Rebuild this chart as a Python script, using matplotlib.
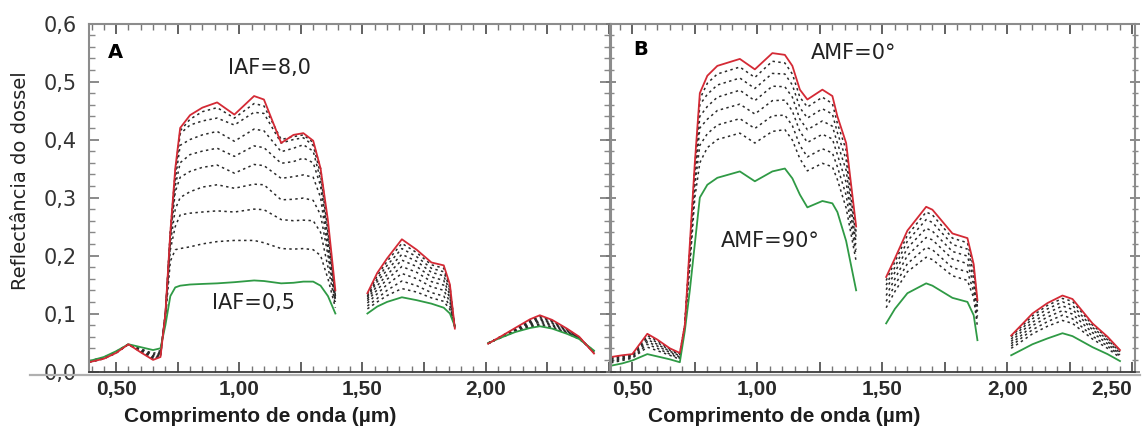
import numpy as np
import matplotlib
matplotlib.use('Agg')
import matplotlib.pyplot as plt
from matplotlib.ticker import MultipleLocator
from matplotlib.lines import Line2D

plt.rcParams['font.family'] = ['DejaVu Sans']

# ---- Painel A (IAF 0,5 ... 8,0) ----
a_wl = [
    [0.39, 0.45, 0.50, 0.55, 0.60, 0.65, 0.68, 0.70, 0.72, 0.74, 0.76, 0.80,
     0.85, 0.91, 0.98, 1.06, 1.10, 1.17, 1.22, 1.26, 1.30, 1.33, 1.36, 1.39],
    [1.52, 1.56, 1.60, 1.66, 1.72, 1.78, 1.83, 1.855, 1.875],
    [2.01, 2.06, 2.12, 2.18, 2.22, 2.27, 2.33, 2.38, 2.44],
]
a_red = [
    [0.016, 0.022, 0.032, 0.047, 0.033, 0.020, 0.025, 0.10, 0.24, 0.35, 0.42, 0.442,
     0.455, 0.464, 0.443, 0.475, 0.469, 0.394, 0.408, 0.411, 0.398, 0.35, 0.26, 0.14],
    [0.135, 0.17, 0.195, 0.228, 0.21, 0.188, 0.183, 0.15, 0.074],
    [0.048, 0.060, 0.075, 0.090, 0.097, 0.089, 0.074, 0.060, 0.031],
]
a_green = [
    [0.018, 0.025, 0.035, 0.047, 0.042, 0.037, 0.040, 0.08, 0.13, 0.145, 0.148, 0.150,
     0.151, 0.152, 0.154, 0.157, 0.156, 0.152, 0.153, 0.155, 0.155, 0.148, 0.13, 0.10],
    [0.10, 0.112, 0.12, 0.128, 0.123, 0.117, 0.11, 0.10, 0.078],
    [0.049, 0.058, 0.068, 0.075, 0.078, 0.074, 0.065, 0.056, 0.036],
]
a_dots_nir = [
    [0.016, 0.022, 0.032, 0.047, 0.034, 0.021, 0.026, 0.10, 0.24, 0.345, 0.415, 0.435,
     0.448, 0.455, 0.437, 0.462, 0.458, 0.400, 0.405, 0.408, 0.395, 0.35, 0.25, 0.13],
    [0.016, 0.022, 0.032, 0.047, 0.034, 0.022, 0.027, 0.10, 0.24, 0.34, 0.41, 0.425,
     0.432, 0.437, 0.425, 0.447, 0.445, 0.394, 0.400, 0.403, 0.390, 0.34, 0.24, 0.13],
    [0.017, 0.023, 0.033, 0.047, 0.035, 0.023, 0.028, 0.10, 0.235, 0.33, 0.39, 0.400,
     0.408, 0.414, 0.397, 0.418, 0.415, 0.379, 0.385, 0.391, 0.380, 0.33, 0.23, 0.13],
    [0.017, 0.023, 0.033, 0.047, 0.035, 0.024, 0.029, 0.10, 0.235, 0.32, 0.36, 0.374,
     0.380, 0.385, 0.371, 0.389, 0.386, 0.359, 0.362, 0.368, 0.360, 0.32, 0.22, 0.125],
    [0.017, 0.023, 0.033, 0.047, 0.036, 0.026, 0.030, 0.10, 0.23, 0.31, 0.335, 0.345,
     0.352, 0.356, 0.342, 0.357, 0.355, 0.333, 0.336, 0.339, 0.335, 0.30, 0.21, 0.12],
    [0.017, 0.024, 0.034, 0.047, 0.037, 0.027, 0.032, 0.10, 0.22, 0.28, 0.30, 0.310,
     0.318, 0.322, 0.316, 0.323, 0.322, 0.296, 0.297, 0.299, 0.295, 0.27, 0.20, 0.12],
    [0.018, 0.024, 0.034, 0.047, 0.038, 0.029, 0.034, 0.095, 0.21, 0.25, 0.27, 0.273,
     0.275, 0.277, 0.275, 0.280, 0.279, 0.262, 0.260, 0.261, 0.260, 0.24, 0.18, 0.115],
    [0.018, 0.024, 0.034, 0.047, 0.039, 0.031, 0.036, 0.09, 0.19, 0.21, 0.212, 0.215,
     0.220, 0.224, 0.226, 0.226, 0.222, 0.212, 0.211, 0.212, 0.210, 0.20, 0.16, 0.11],
]
a_dots_swir1 = [
    [0.133, 0.165, 0.19, 0.221, 0.205, 0.184, 0.178, 0.147, 0.075],
    [0.13, 0.16, 0.183, 0.212, 0.198, 0.178, 0.172, 0.143, 0.075],
    [0.128, 0.155, 0.175, 0.202, 0.19, 0.171, 0.165, 0.138, 0.076],
    [0.125, 0.148, 0.167, 0.192, 0.181, 0.163, 0.157, 0.132, 0.076],
    [0.122, 0.141, 0.159, 0.181, 0.171, 0.155, 0.149, 0.127, 0.077],
    [0.118, 0.134, 0.15, 0.169, 0.16, 0.146, 0.14, 0.12, 0.077],
    [0.113, 0.126, 0.14, 0.156, 0.148, 0.136, 0.13, 0.113, 0.077],
    [0.108, 0.12, 0.131, 0.143, 0.137, 0.127, 0.121, 0.107, 0.078],
]
a_dots_swir2 = [
    [0.048, 0.060, 0.074, 0.088, 0.095, 0.087, 0.073, 0.059, 0.032],
    [0.048, 0.060, 0.073, 0.087, 0.093, 0.086, 0.072, 0.059, 0.032],
    [0.048, 0.059, 0.073, 0.085, 0.091, 0.084, 0.071, 0.058, 0.033],
    [0.048, 0.059, 0.072, 0.084, 0.089, 0.083, 0.070, 0.058, 0.033],
    [0.049, 0.059, 0.071, 0.082, 0.087, 0.081, 0.069, 0.058, 0.034],
    [0.049, 0.059, 0.070, 0.080, 0.085, 0.079, 0.068, 0.057, 0.034],
    [0.049, 0.058, 0.069, 0.078, 0.082, 0.077, 0.067, 0.057, 0.035],
    [0.049, 0.058, 0.069, 0.077, 0.080, 0.076, 0.066, 0.056, 0.035],
]

# ---- Painel B (AMF 0 ... 90 graus) ----
b_wl = [
    [0.415, 0.46, 0.50, 0.56, 0.60, 0.65, 0.69, 0.71, 0.73, 0.75, 0.77, 0.80, 0.84,
     0.93, 0.99, 1.06, 1.11, 1.14, 1.17, 1.20, 1.26, 1.30, 1.32, 1.355, 1.395],
    [1.515, 1.55, 1.60, 1.675, 1.70, 1.78, 1.84, 1.865, 1.88],
    [2.015, 2.06, 2.10, 2.16, 2.22, 2.26, 2.34, 2.40, 2.45],
]
b_red = [
    [0.025, 0.028, 0.030, 0.065, 0.055, 0.040, 0.032, 0.08, 0.22, 0.36, 0.48, 0.51, 0.527,
     0.539, 0.521, 0.549, 0.546, 0.527, 0.486, 0.469, 0.486, 0.475, 0.44, 0.394, 0.25],
    [0.163, 0.195, 0.243, 0.284, 0.279, 0.238, 0.23, 0.185, 0.123],
    [0.062, 0.082, 0.10, 0.118, 0.131, 0.125, 0.083, 0.06, 0.037],
]
b_green = [
    [0.010, 0.014, 0.019, 0.030, 0.026, 0.021, 0.016, 0.07, 0.14, 0.22, 0.30, 0.322, 0.334,
     0.345, 0.328, 0.345, 0.350, 0.333, 0.305, 0.283, 0.294, 0.29, 0.275, 0.225, 0.14],
    [0.083, 0.108, 0.135, 0.152, 0.148, 0.127, 0.12, 0.097, 0.054],
    [0.028, 0.038, 0.047, 0.057, 0.066, 0.061, 0.042, 0.03, 0.018],
]
b_dots_nir = [
    [0.024, 0.027, 0.029, 0.062, 0.053, 0.039, 0.031, 0.08, 0.21, 0.35, 0.47, 0.497, 0.513,
     0.525, 0.507, 0.535, 0.532, 0.513, 0.473, 0.456, 0.473, 0.462, 0.428, 0.382, 0.24],
    [0.022, 0.026, 0.028, 0.059, 0.050, 0.037, 0.029, 0.08, 0.21, 0.35, 0.46, 0.478, 0.494,
     0.506, 0.488, 0.514, 0.513, 0.494, 0.455, 0.437, 0.453, 0.444, 0.412, 0.365, 0.23],
    [0.021, 0.024, 0.027, 0.055, 0.047, 0.035, 0.027, 0.08, 0.20, 0.34, 0.44, 0.457, 0.473,
     0.485, 0.467, 0.492, 0.491, 0.473, 0.435, 0.417, 0.432, 0.423, 0.394, 0.347, 0.22],
    [0.019, 0.022, 0.026, 0.051, 0.044, 0.033, 0.025, 0.08, 0.20, 0.33, 0.42, 0.435, 0.450,
     0.461, 0.444, 0.467, 0.468, 0.449, 0.414, 0.395, 0.409, 0.401, 0.374, 0.326, 0.21],
    [0.017, 0.021, 0.024, 0.047, 0.040, 0.030, 0.023, 0.08, 0.19, 0.32, 0.39, 0.410, 0.425,
     0.436, 0.419, 0.441, 0.442, 0.424, 0.390, 0.370, 0.384, 0.377, 0.353, 0.304, 0.20],
    [0.015, 0.019, 0.023, 0.042, 0.036, 0.028, 0.021, 0.08, 0.18, 0.30, 0.36, 0.386, 0.400,
     0.411, 0.394, 0.414, 0.417, 0.399, 0.367, 0.346, 0.359, 0.353, 0.331, 0.282, 0.19],
]
b_dots_swir1 = [
    [0.157, 0.189, 0.235, 0.275, 0.270, 0.230, 0.222, 0.179, 0.118],
    [0.149, 0.180, 0.225, 0.262, 0.257, 0.219, 0.211, 0.170, 0.111],
    [0.141, 0.171, 0.213, 0.247, 0.242, 0.207, 0.199, 0.160, 0.104],
    [0.131, 0.160, 0.200, 0.231, 0.227, 0.194, 0.186, 0.150, 0.095],
    [0.121, 0.149, 0.186, 0.214, 0.210, 0.179, 0.172, 0.138, 0.086],
    [0.110, 0.138, 0.172, 0.197, 0.193, 0.165, 0.157, 0.127, 0.077],
]
b_dots_swir2 = [
    [0.060, 0.079, 0.096, 0.114, 0.126, 0.121, 0.080, 0.058, 0.036],
    [0.056, 0.075, 0.091, 0.108, 0.120, 0.114, 0.076, 0.055, 0.034],
    [0.052, 0.070, 0.085, 0.101, 0.113, 0.107, 0.072, 0.052, 0.032],
    [0.048, 0.064, 0.079, 0.094, 0.105, 0.099, 0.067, 0.048, 0.029],
    [0.044, 0.059, 0.072, 0.086, 0.097, 0.091, 0.061, 0.044, 0.027],
    [0.040, 0.053, 0.065, 0.078, 0.088, 0.083, 0.056, 0.040, 0.024],
]

x_ticks = [0.5, 0.75, 1.0, 1.25, 1.5, 1.75, 2.0, 2.25, 2.5]
x_labels = ['0,50', '', '1,00', '', '1,50', '', '2,00', '', '2,50']
y_ticks = [0.0, 0.1, 0.2, 0.3, 0.4, 0.5, 0.6]
y_labels = ['0,0', '0,1', '0,2', '0,3', '0,4', '0,5', '0,6']

RED = '#d42a35'
GREEN = '#2f9a45'
DOT = '#2a2a2a'


def draw_panel(ax, wl, red, green, dots):
    for k in range(3):
        for row in dots[k]:
            ax.plot(wl[k], row, color=DOT, lw=1.1, ls=(0, (1.6, 2.2)))
        ax.plot(wl[k], green[k], color=GREEN, lw=1.3)
        ax.plot(wl[k], red[k], color=RED, lw=1.3)


def style_axes(ax, xlim, left_labels, labels):
    ax.set_xlim(*xlim)
    ax.set_ylim(0, 0.6)
    ax.set_xticks(x_ticks)
    ax.set_xticklabels(labels, fontfamily='Liberation Sans', fontweight='bold',
                       fontsize=15, color='#2a2a2a')
    ax.xaxis.set_minor_locator(MultipleLocator(0.05))
    ax.set_yticks(y_ticks)
    ax.yaxis.set_minor_locator(MultipleLocator(0.02))
    if left_labels:
        ax.set_yticklabels(y_labels, fontsize=15, color='#333333')
    else:
        ax.set_yticklabels([])
    ax.tick_params(axis='x', which='major', direction='in', top=True, length=7,
                   width=1.3, color='#555555', pad=6)
    ax.tick_params(axis='x', which='minor', direction='in', top=True, length=4,
                   width=1.0, color='#777777')
    ydir = 'in' if left_labels else 'inout'
    ax.tick_params(axis='y', which='major', direction=ydir, right=True, length=7,
                   width=1.2, color='#777777', pad=9)
    ax.tick_params(axis='y', which='minor', direction=ydir, right=True, length=4,
                   width=1.0, color='#888888')
    for side in ['top', 'left', 'right']:
        ax.spines[side].set_color('#8c8c8c')
        ax.spines[side].set_linewidth(1.5)
    ax.spines['bottom'].set_color('#3a3a3a')
    ax.spines['bottom'].set_linewidth(1.3)


fig = plt.figure(figsize=(11.46, 4.28), dpi=100)
axA = fig.add_axes([0.0777, 0.132, 0.4546, 0.813])
axB = fig.add_axes([0.5332, 0.132, 0.4572, 0.813])

draw_panel(axA, a_wl, a_red, a_green, [a_dots_nir, a_dots_swir1, a_dots_swir2])
draw_panel(axB, b_wl, b_red, b_green, [b_dots_nir, b_dots_swir1, b_dots_swir2])
style_axes(axA, (0.39, 2.505), True, x_labels[:-1] + [''])
style_axes(axB, (0.415, 2.51), False, x_labels)
axB.get_xticklabels()[-1].set_horizontalalignment('right')

# anotacoes
axA.text(0.498, 0.550, 'A', fontsize=14, fontweight='bold', ha='center', va='center')
axA.text(1.122, 0.523, 'IAF=8,0', fontsize=15, ha='center', va='center', color='#222222')
axA.text(1.057, 0.118, 'IAF=0,5', fontsize=15, ha='center', va='center', color='#222222')
axB.text(0.532, 0.555, 'B', fontsize=14, fontweight='bold', ha='center', va='center')
axB.text(1.384, 0.550, 'AMF=0°', fontsize=15, ha='center', va='center', color='#222222')
axB.text(1.052, 0.225, 'AMF=90°', fontsize=15, ha='center', va='center', color='#222222')

fig.text(0.018, 0.579, 'Reflectância do dossel', rotation=90, fontsize=14,
         ha='center', va='center', color='#222222')
fig.text(0.227, 0.027, 'Comprimento de onda (µm)', fontfamily='Liberation Sans',
         fontweight='bold', fontsize=15, ha='center', va='center', color='#1e1e1e')
fig.text(0.684, 0.027, 'Comprimento de onda (µm)', fontfamily='Liberation Sans',
         fontweight='bold', fontsize=15, ha='center', va='center', color='#1e1e1e')

# linha cinza sob os eixos
fig.add_artist(Line2D([0.026, 0.995], [0.124, 0.124], color='#b0b0b0', lw=1.6))

fig.savefig('out.png', dpi=100)
